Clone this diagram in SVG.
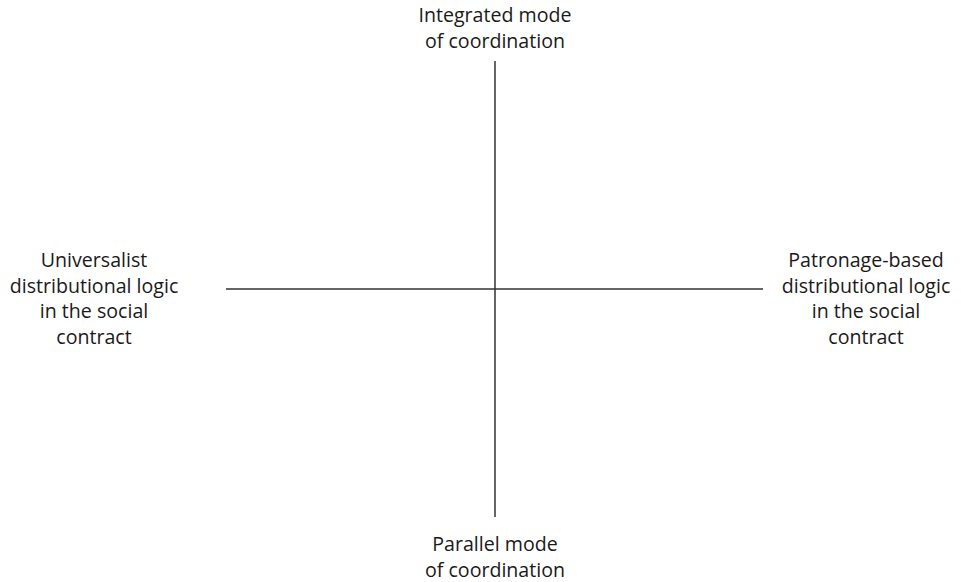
<svg xmlns="http://www.w3.org/2000/svg" width="961" height="582" viewBox="0 0 961 582">
<style>
.t{font-family:"Open Sans","Liberation Sans",sans-serif;font-size:19.6px;fill:#1a1a1a;text-anchor:middle}
.ax{stroke:#333;stroke-width:1.5;fill:none}
</style>
<rect width="961" height="582" fill="#fff"/>
<g id="connectors">
<line class="ax" x1="495" y1="61" x2="495" y2="517"/>
<line class="ax" x1="226" y1="289" x2="763" y2="289"/>
</g>
<g id="top"><text class="t" x="495" y="22">Integrated mode</text><text class="t" x="495" y="48">of coordination</text></g>
<g id="left"><text class="t" x="94" y="267">Universalist</text><text class="t" x="94" y="293">distributional logic</text><text class="t" x="94" y="318">in the social</text><text class="t" x="94" y="344">contract</text></g>
<g id="right"><text class="t" x="866" y="267">Patronage-based</text><text class="t" x="866" y="293">distributional logic</text><text class="t" x="866" y="318">in the social</text><text class="t" x="866" y="344">contract</text></g>
<g id="bottom"><text class="t" x="495" y="551">Parallel mode</text><text class="t" x="495" y="577">of coordination</text></g>
</svg>
